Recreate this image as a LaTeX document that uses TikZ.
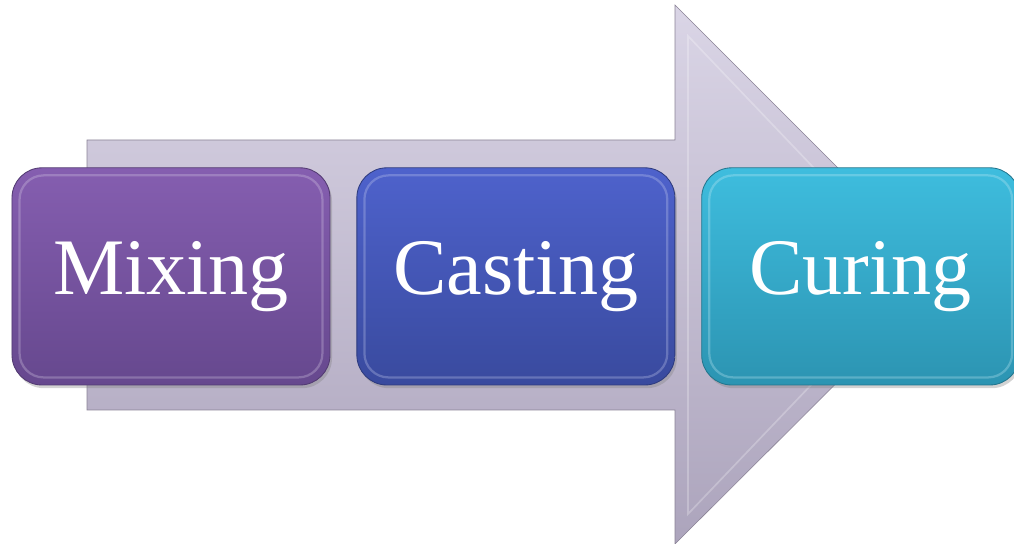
\documentclass[tikz,border=0pt]{standalone}
\usepackage{fontspec}
\setmainfont{Liberation Serif}
\usepackage{tikz}
\usetikzlibrary{positioning,shadows}
\definecolor{arrowtop}{RGB}{218,213,230}
\definecolor{arrowbot}{RGB}{172,164,188}
\definecolor{mixtop}{RGB}{133,94,176}
\definecolor{mixbot}{RGB}{102,72,142}
\definecolor{casttop}{RGB}{78,98,204}
\definecolor{castbot}{RGB}{57,74,158}
\definecolor{curetop}{RGB}{62,189,222}
\definecolor{curebot}{RGB}{44,148,178}

\tikzset{
  stage/.style={rounded corners=0.75cm,minimum width=7.95cm,minimum height=5.43cm,
    text=white,font=\fontsize{57}{62}\selectfont,inner sep=0pt,
    drop shadow={shadow xshift=0.05cm,shadow yshift=-0.08cm,opacity=0.35},line width=0.6pt},
  rim/.style={rounded corners=0.6cm,line width=1.6pt,draw=#1,opacity=0.3}
}

\begin{document}
\begin{tikzpicture}[x=1cm,y=1cm]
\useasboundingbox (0,0) rectangle (25.35,13.6);
% big process arrow behind the stages
\shade[top color=arrowtop,bottom color=arrowbot,draw=arrowbot!80!black,line width=0.4pt]
  (2.175,10.1) -- (16.875,10.1) -- (16.875,13.475) -- (23.625,6.725)
  -- (16.875,0) -- (16.875,3.35) -- (2.175,3.35) -- cycle;
\draw[white,opacity=0.25,line width=1.2pt]
  (17.2,12.7) -- (22.9,6.725) -- (17.2,0.75) -- cycle;
% the three stages
\node[stage,top color=mixtop,bottom color=mixbot,draw=mixbot!80!black] (mixing) at (4.275,6.69) {Mixing};
\node[stage,top color=casttop,bottom color=castbot,draw=castbot!80!black,right=0.65cm of mixing] (casting) {Casting};
\node[stage,top color=curetop,bottom color=curebot,draw=curebot!80!black,right=0.65cm of casting] (curing) {Curing};
% glossy rims
\foreach \n/\c in {mixing/mixtop!30!white,casting/casttop!30!white,curing/curetop!30!white}{
  \draw[rim=\c] ([shift={(0.2,0.2)}]\n.south west) rectangle ([shift={(-0.2,-0.2)}]\n.north east);
}
\end{tikzpicture}
\end{document}
